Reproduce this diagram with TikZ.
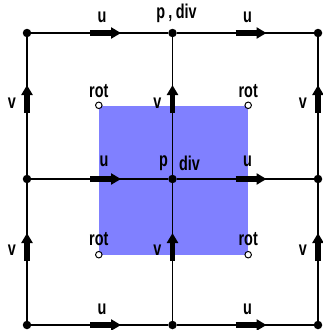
\documentclass[tikz,border=0pt]{standalone}
\usepackage{fontspec}
\newfontfamily\lblfont{Liberation Sans}[FakeStretch=0.72]
\usetikzlibrary{arrows.meta,positioning,backgrounds}

\begin{document}
\begin{tikzpicture}[
  x=1pt, y=-1pt,
  dot/.style={circle, fill=black, inner sep=0pt, minimum size=8.5pt},
  rotpt/.style={circle, draw=black, fill=white, line width=1pt,
    inner sep=0pt, minimum size=6.5pt},
  cell/.style={rectangle, fill=blue!50, inner sep=0pt, minimum size=149pt},
  grd/.style={line width=1.1pt},
  vec/.style={-{Triangle[length=10pt,width=11pt]}, line width=5.5pt},
  lbl/.style={font=\lblfont\bfseries\fontsize{20}{20}\selectfont,
    inner sep=0pt},
  on grid, node distance=145.5pt,
]
\useasboundingbox (0,0) rectangle (323,330);

%% grid points
\node[dot] (tl) at (27,33) {};
\node[dot, right=of tl] (tc) {};
\node[dot, right=of tc] (tr) {};
\node[dot, below=146pt of tl] (ml) {};
\node[dot, right=of ml] (mc) {};
\node[dot, right=of mc] (mr) {};
\node[dot, below=146pt of ml] (bl) {};
\node[dot, right=of bl] (bc) {};
\node[dot, right=of bc] (br) {};

%% shaded cell round the centre
\begin{scope}[on background layer]
  \node[cell] (sq) at ([xshift=1pt,yshift=-1pt]mc.center) {};
\end{scope}

%% grid lines
\draw[grd] (tl) -- (tc) -- (tr);
\draw[grd] (ml) -- (mc) -- (mr);
\draw[grd] (bl) -- (bc) -- (br);
\draw[grd] (tl) -- (ml) -- (bl);
\draw[grd] (tc) -- (mc) -- (bc);
\draw[grd] (tr) -- (mr) -- (br);

%% u velocities
\draw[vec] ([xshift=63pt]tl.center) -- ++(31pt,0pt);
\draw[vec] ([xshift=63pt]tc.center) -- ++(31pt,0pt);
\draw[vec] ([xshift=63pt]ml.center) -- ++(31pt,0pt);
\draw[vec] ([xshift=63pt]mc.center) -- ++(31pt,0pt);
\draw[vec] ([xshift=63pt]bl.center) -- ++(31pt,0pt);
\draw[vec] ([xshift=63pt]bc.center) -- ++(31pt,0pt);
\node[lbl] at ([xshift=75pt,yshift=16pt]tl.center) {u};
\node[lbl] at ([xshift=75pt,yshift=16pt]tc.center) {u};
\node[lbl] at ([xshift=77pt,yshift=18pt]ml.center) {u};
\node[lbl] at ([xshift=75pt,yshift=18pt]mc.center) {u};
\node[lbl] at ([xshift=75pt,yshift=16pt]bl.center) {u};
\node[lbl] at ([xshift=75pt,yshift=16pt]bc.center) {u};

%% v velocities
\draw[vec] ([yshift=-80pt]tl.center) -- ++(0pt,28pt);
\draw[vec] ([yshift=-80pt]tc.center) -- ++(0pt,28pt);
\draw[vec] ([yshift=-80pt]tr.center) -- ++(0pt,28pt);
\draw[vec] ([yshift=-82pt]ml.center) -- ++(0pt,28pt);
\draw[vec] ([yshift=-82pt]mc.center) -- ++(0pt,28pt);
\draw[vec] ([yshift=-82pt]mr.center) -- ++(0pt,28pt);
\node[lbl] at ([xshift=-15pt,yshift=-70pt]tl.center) {v};
\node[lbl] at ([xshift=-15pt,yshift=-70pt]tc.center) {v};
\node[lbl] at ([xshift=-15pt,yshift=-70pt]tr.center) {v};
\node[lbl] at ([xshift=-15pt,yshift=-71pt]ml.center) {v};
\node[lbl] at ([xshift=-15pt,yshift=-71pt]mc.center) {v};
\node[lbl] at ([xshift=-15pt,yshift=-71pt]mr.center) {v};

%% vorticity points
\node[rotpt] (rnw) at (sq.north west) {};
\node[rotpt] (rne) at (sq.north east) {};
\node[rotpt] (rsw) at (sq.south west) {};
\node[rotpt] (rse) at (sq.south east) {};
\node[lbl, above=14pt of rnw] {rot};
\node[lbl, above=14pt of rne] {rot};
\node[lbl, above=16pt of rsw] {rot};
\node[lbl, above=16pt of rse] {rot};

%% pressure / divergence
\node[lbl] at ([xshift=4pt,yshift=20pt]tc.center) {p\,,\,div};
\node[lbl] at ([xshift=-9pt,yshift=16pt]mc.center) {p};
\node[lbl] at ([xshift=17pt,yshift=16pt]mc.center) {div};
\end{tikzpicture}
\end{document}
